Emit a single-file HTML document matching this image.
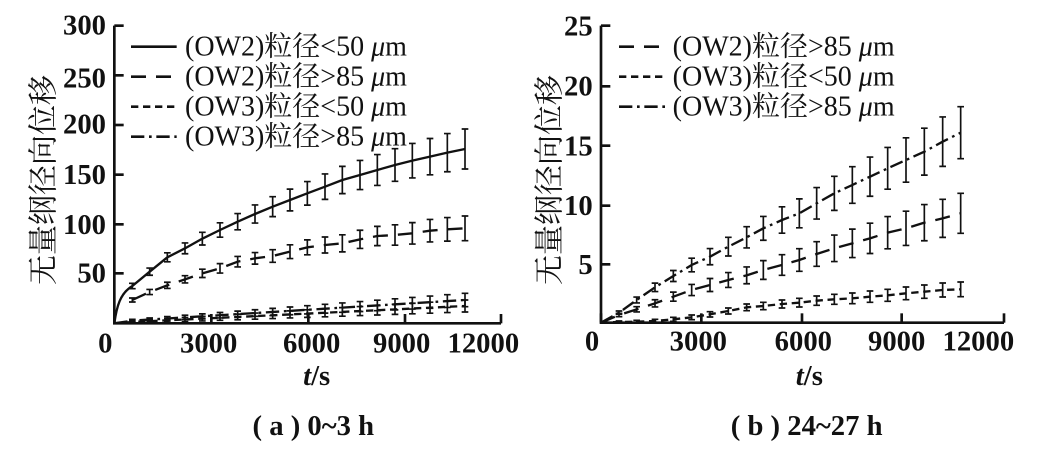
<!DOCTYPE html>
<html><head><meta charset="utf-8"><style>
html,body{margin:0;padding:0;background:#fff;width:1057px;height:464px;overflow:hidden}
svg text{font-family:"Liberation Serif","Noto Serif CJK SC",serif;fill:#111}
</style></head><body>
<svg id="s" width="1057" height="464" viewBox="0 0 3171 1392" xmlns="http://www.w3.org/2000/svg">
<g id="L"></g>
<g id="R" transform="translate(1560,0)"></g>
<g font-size="86" font-weight="bold" text-anchor="end">
<text x="318" y="104">300</text><text x="318" y="262">250</text><text x="318" y="400">200</text>
<text x="318" y="552">150</text><text x="318" y="702">100</text><text x="318" y="848">50</text>
</g>
<g font-size="86" font-weight="bold" text-anchor="middle">
<text x="316" y="1057">0</text><text x="626" y="1057">3000</text><text x="935" y="1057">6000</text>
<text x="1205" y="1057">9000</text><text x="1450" y="1057">12000</text>
<text x="950" y="1155"><tspan font-style="italic">t</tspan>/s</text>
<text x="940" y="1305">( a ) 0~3 h</text>
</g>
<text font-size="90" font-family="'Noto Sans CJK SC',sans-serif" transform="translate(160,855) rotate(-90)">无量纲径向位移</text>
<g font-size="84">
<text x="555" y="166">(OW2)粒径&lt;50 <tspan font-style="italic">μ</tspan>m</text>
<text x="555" y="256">(OW2)粒径&gt;85 <tspan font-style="italic">μ</tspan>m</text>
<text x="555" y="346">(OW3)粒径&lt;50 <tspan font-style="italic">μ</tspan>m</text>
<text x="555" y="436">(OW3)粒径&gt;85 <tspan font-style="italic">μ</tspan>m</text>
</g>
<g stroke="#111" stroke-width="8" fill="none">
<line x1="393" y1="140" x2="530" y2="140"/>
<line x1="393" y1="230" x2="530" y2="230" stroke-dasharray="45,30"/>
<line x1="393" y1="320" x2="530" y2="320" stroke-dasharray="22,14"/>
<line x1="393" y1="410" x2="530" y2="410" stroke-dasharray="40,14,8,14"/>
</g>
<g transform="translate(1560,0)">
<g font-size="86" font-weight="bold" text-anchor="end">
<text x="218" y="107">25</text><text x="218" y="287">20</text><text x="218" y="467">15</text>
<text x="218" y="645">10</text><text x="218" y="822">5</text>
</g>
<g font-size="86" font-weight="bold" text-anchor="middle">
<text x="216" y="1052">0</text><text x="535" y="1052">3000</text><text x="850" y="1052">6000</text>
<text x="1130" y="1052">9000</text><text x="1375" y="1052">12000</text>
<text x="868" y="1155"><tspan font-style="italic">t</tspan>/s</text>
<text x="860" y="1305">( b ) 24~27 h</text>
</g>
<text font-size="90" font-family="'Noto Sans CJK SC',sans-serif" transform="translate(118,855) rotate(-90)">无量纲径向位移</text>
<g font-size="84">
<text x="458" y="166">(OW2)粒径&gt;85 <tspan font-style="italic">μ</tspan>m</text>
<text x="458" y="256">(OW3)粒径&lt;50 <tspan font-style="italic">μ</tspan>m</text>
<text x="458" y="346">(OW3)粒径&gt;85 <tspan font-style="italic">μ</tspan>m</text>
</g>
<g stroke="#111" stroke-width="8" fill="none">
<line x1="297" y1="140" x2="440" y2="140" stroke-dasharray="45,30"/>
<line x1="297" y1="230" x2="440" y2="230" stroke-dasharray="22,14"/>
<line x1="297" y1="320" x2="440" y2="320" stroke-dasharray="40,14,8,14"/>
</g>
</g>
</svg>
<script>
var NS="http://www.w3.org/2000/svg";
function el(p,t,a){var e=document.createElementNS(NS,t);for(var k in a)e.setAttribute(k,a[k]);p.appendChild(e);return e;}
function axes(g,x0,x1,y0,y1,xt,yt){
 var a={stroke:"#111","stroke-width":8,fill:"none"};
 el(g,"path",Object.assign({d:"M"+x0+" "+y1+" V"+y0+" H"+x1},a));
 xt.forEach(function(x){el(g,"line",Object.assign({x1:x,y1:y0,x2:x,y2:y0-28},a));});
 yt.forEach(function(y){el(g,"line",Object.assign({x1:x0,y1:y,x2:x0+28,y2:y},a));});
}
function series(g,x0,y0,xs,ys,errs,dash){
 var d="M"+x0+" "+y0;
 xs.forEach(function(x,i){d+=" L"+x+" "+ys[i];});
 var a={stroke:"#111","stroke-width":7,fill:"none"};
 if(dash)a["stroke-dasharray"]=dash;
 el(g,"path",Object.assign({d:d,"stroke-linejoin":"round"},a));
 xs.forEach(function(x,i){var e=errs[i];var b={stroke:"#111","stroke-width":5,fill:"none"};
  el(g,"path",Object.assign({d:"M"+x+" "+(ys[i]-e)+" V"+(ys[i]+e)+" M"+(x-10)+" "+(ys[i]-e)+" h20 M"+(x-10)+" "+(ys[i]+e)+" h20"},b));});
}
function lin(n,a,b){var r=[];for(var i=0;i<n;i++)r.push(a+(b-a)*i/(n-1));return r;}
var L=document.getElementById("L");
axes(L,343,1503,970,77,[343,634,925,1215,1503],[77,226,375,524,673,820]);
var xsL=[397,449,502,555,607,660,713,765,818,870,922,975,1027,1080,1132,1185,1237,1290,1342,1395];
var s1=[858,815,772,745,716,690,665,642,620,600,580,560,540,525,510,495,482,470,458,447];
var s2=[900,876,856,838,820,805,785,775,768,755,742,735,730,718,708,705,700,692,688,685];
var s3=lin(20,966,918), s4=lin(20,962,900);
var e1=lin(20,8,60), e2=lin(20,6,37), e3=lin(20,4,18), e4=lin(20,4,20);
el(L,"path",{d:"M343 970 C350 920 360 880 397 858",stroke:"#111","stroke-width":7,fill:"none"});
series(L,397,858,xsL,s1,e1,null);
series(L,397,900,xsL,s2,e2,"45,30");
series(L,343,970,xsL,s3,e3,"22,14");
series(L,343,970,xsL,s4,e4,"40,14,8,14");
var R=document.getElementById("R");
axes(R,243,1452,968,77,[243,544,846,1145,1452],[77,259,437,617,793]);
var xsR=[297,350,405,460,515,570,625,680,730,786,838,890,943,997,1050,1103,1158,1213,1268,1322];
var r1=[938,900,862,828,795,770,740,712,685,660,640,610,580,555,530,505,480,455,425,398];
var r2=[945,928,910,890,870,855,840,826,810,795,780,762,745,730,715,698,685,668,655,640];
var r3=[966,965,963,958,952,943,933,922,918,912,908,902,898,895,890,886,880,875,870,868];
series(R,243,968,xsR,r1,lin(20,5,78),"40,14,8,14");
series(R,243,968,xsR,r2,lin(20,5,60),"45,30");
series(R,243,968,xsR,r3,lin(20,3,22),"22,14");
</script>
</body></html>
